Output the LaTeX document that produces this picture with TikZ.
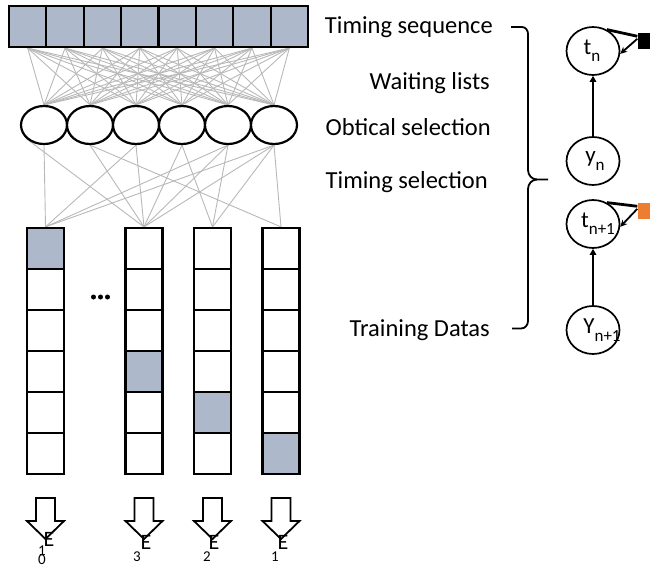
\documentclass[tikz,border=0pt]{standalone}
\usepackage{fontspec}
\setmainfont{Carlito}
\usetikzlibrary{arrows.meta,shapes.geometric}
\definecolor{cellblue}{HTML}{ADB9CA}
\definecolor{wire}{HTML}{B8B8B8}
\definecolor{factororange}{HTML}{ED7D31}
\pgfdeclarelayer{bg}
\pgfsetlayers{bg,main}
\newcommand\lowidx[1]{\raisebox{-0.32em}{\fontsize{17}{17}\selectfont #1}}
\begin{document}
\begin{tikzpicture}[x=1pt,y=-1pt,
  cell/.style={draw, line width=2.2pt, minimum width=37.4pt, minimum height=41pt, inner sep=0pt, fill=white},
  slot/.style={draw, line width=2.2pt, minimum width=37pt, minimum height=41pt, inner sep=0pt, fill=white},
  unit/.style={ellipse, draw, line width=2.2pt, minimum width=46pt, minimum height=38pt, inner sep=0pt, fill=white},
  var/.style={ellipse, draw, line width=1.7pt, minimum width=53pt, minimum height=48pt, inner sep=0pt, fill=white},
  wireline/.style={draw=wire, line width=0.9pt},
  caption/.style={font=\fontsize{24.5}{28}\selectfont, inner sep=0pt, anchor=east},
  blockarrow/.style={draw, line width=1.8pt, fill=white, line join=miter},
  elabel/.style={font=\fontsize{22}{24}\selectfont, inner sep=0pt},
  sublabel/.style={font=\fontsize{15}{17}\selectfont, inner sep=0pt},
  edge/.style={line width=2pt, -{Triangle[length=6pt,width=6.5pt]}},
  loopin/.style={line width=1.8pt, -{Stealth[length=7pt,width=6.5pt]}},
  factor/.style={minimum size=16pt, inner sep=0pt}]
\useasboundingbox (0,0) rectangle (650,568);

% timing sequence bar
\foreach \i in {0,...,7}
  \node[cell, fill=cellblue] (s\i) at ({9+37.375*(\i+0.5)}, 26.5) {};

% selection units
\foreach \i in {1,...,6}
  \node[unit] (e\i) at ({44+46*(\i-1)}, 125) {};

% waiting-list columns
\foreach \c/\cx in {1/45.5, 2/144, 3/212.5, 4/281}
  \foreach \r in {1,...,6}
    \node[slot] (c\c r\r) at (\cx, {248.5+41*(\r-1)}) {};
\foreach \c/\r in {1/1, 2/4, 3/5, 4/6}
  \node[slot, fill=cellblue] at (c\c r\r) {};

% wiring
\begin{pgfonlayer}{bg}
  \foreach \i in {0,...,7}
    \foreach \j in {1,...,6}
      \draw[wireline] (s\i.south) -- (e\j.north);
  \draw[wireline] (e1.south) -- (c1r1.north);
  \draw[wireline] (e1.south west) -- (c2r1.north);
  \draw[wireline] (e2.south) -- (c2r1.north);
  \draw[wireline] (e2.south) -- (c4r1.north);
  \draw[wireline] (e3.south) -- (c1r1.north);
  \draw[wireline] (e3.south) -- (c2r1.north);
  \draw[wireline] (e4.south) -- (c2r1.north);
  \draw[wireline] (e4.south) -- (c3r1.north);
  \foreach \c in {1,2,3}
    \draw[wireline] (e5.south) -- (c\c r1.north);
  \foreach \c in {1,2,3,4}
    \draw[wireline] (e6.south) -- (c\c r1.north);
\end{pgfonlayer}

% ellipsis between columns
\foreach \x [count=\k] in {93.5,100.5,107.5}
  \fill (\x,297) circle (2.5pt) coordinate (dot\k);

% output arrows
\foreach \c/\cx in {1/45.5, 2/144, 3/212.5, 4/281} {
  \draw[blockarrow] (\cx-9.5,498) -- (\cx+9.5,498) -- (\cx+9.5,521) -- (\cx+18.5,521)
    -- (\cx,539) coordinate (tip\c) -- (\cx-18.5,521) -- (\cx-9.5,521) -- cycle;
}
\node[elabel] (E1) at (49,539) {E};
\node[sublabel] (E1a) at (42,551) {1};
\node[sublabel] (E1b) at (42,560) {0};
\node[elabel] (E2) at (146,542) {E};
\node[sublabel] (E2a) at (137,557) {3};
\node[elabel] (E3) at (214,542) {E};
\node[sublabel] (E3a) at (207,557) {2};
\node[elabel] (E4) at (283,542) {E};
\node[sublabel] (E4a) at (275,557) {1};

% captions
\node[caption] (l1) at (493,27) {Timing sequence};
\node[caption] (l2) at (490,83) {Waiting lists};
\node[caption] (l3) at (491,127) {Obtical selection};
\node[caption] (l4) at (488,182) {Timing selection};
\node[caption] (l5) at (490,330) {Training Datas};

% brace
\draw[line width=1.8pt, line join=round] (511,27) -- (522,27) to[out=0,in=90] (528,34)
  -- (528,170) to[out=-90,in=180] (537,179.5) -- (548,179.5);
\draw[line width=1.8pt, line join=round] (537,179.5) to[out=180,in=90] (528,189)
  -- (528,321) to[out=-90,in=0] (521,328.5) -- (512,328.5);

% graphical model
\node[var, label={[font=\fontsize{23}{24}\selectfont, xshift=-1pt]center:t\lowidx{n}}] (tn) at (593,51) {};
\node[var, label={[font=\fontsize{23}{24}\selectfont, xshift=2pt]center:y\lowidx{n}}] (yn) at (593,161) {};
\node[var, label={[font=\fontsize{23}{24}\selectfont, xshift=5pt]center:t\lowidx{n+1}}] (tn1) at (593,224) {};
\node[var, label={[font=\fontsize{23}{24}\selectfont, xshift=9pt]center:Y\lowidx{n+1}}] (yn1) at (593,330) {};
\draw[edge] (yn) -- (tn);
\draw[edge] (yn1) -- (tn1);

\node[factor, fill=black] (fb) at (645.5,41) {};
\node[factor, fill=factororange] (fo) at (645.5,211) {};
\draw[line width=2.8pt] (tn.57) -- (fb.150);
\draw[loopin] (fb.165) -- (tn.-6);
\draw[line width=2.8pt] (tn1.57) -- (fo.150);
\draw[loopin] (fo.165) -- (tn1.-6);
\end{tikzpicture}
\end{document}
